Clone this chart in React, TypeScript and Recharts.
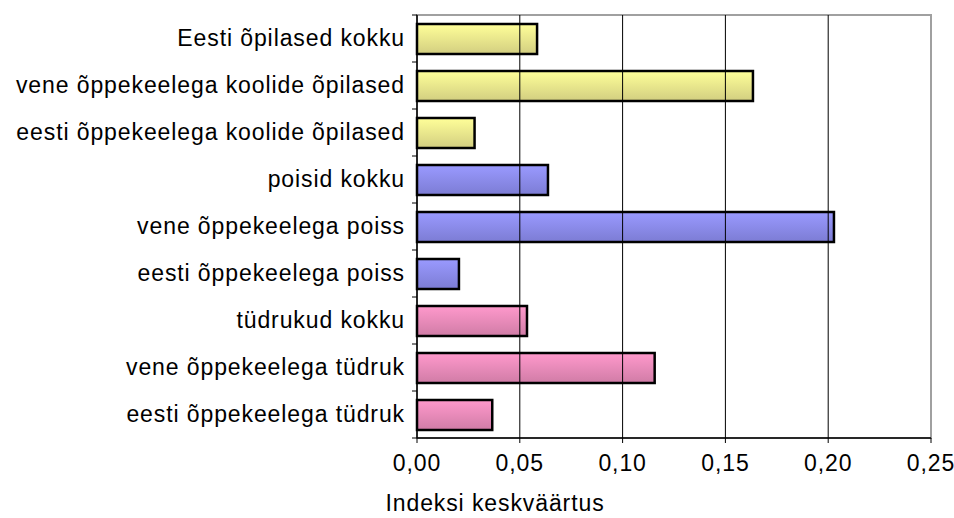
import React from "react";
import {
  BarChart,
  Bar,
  XAxis,
  YAxis,
  Cell,
  ReferenceLine,
  ReferenceArea,
} from "recharts";

const categories = [
  "Eesti õpilased kokku",
  "vene õppekeelega koolide õpilased",
  "eesti õppekeelega koolide õpilased",
  "poisid kokku",
  "vene õppekeelega poiss",
  "eesti õppekeelega poiss",
  "tüdrukud kokku",
  "vene õppekeelega tüdruk",
  "eesti õppekeelega tüdruk",
];
const values = [0.0584, 0.1634, 0.028, 0.0637, 0.2028, 0.0204, 0.0535, 0.1156, 0.0366];
const groups = ["all", "all", "all", "boys", "boys", "boys", "girls", "girls", "girls"];
const xTicks = [0, 0.05, 0.1, 0.15, 0.2, 0.25];
const gridTicks = [0.05, 0.1, 0.15, 0.2];
const axisTitle = "Indeksi keskväärtus";

const data = categories.map((name, i) => ({ name, value: values[i], group: groups[i] }));

const W = 954;
const H = 518;
const margin = { top: 15, right: 23, bottom: 0, left: 0 };
const X_AXIS_H = 80;
const Y_AXIS_W = 417;
const plotH = H - margin.top - margin.bottom - X_AXIS_H;
const band = plotH / categories.length;

const FONT = "'Liberation Sans', Arial, sans-serif";
const FS = 23;
const LS = 0.9;

const fmt = (v: number) => v.toFixed(2).replace(".", ",");

const YTick = (props: any) => {
  const { y, payload, index } = props;
  const ax = Y_AXIS_W;
  return (
    <g>
      <line x1={ax - 5} x2={ax} y1={y - band / 2} y2={y - band / 2} stroke="#000" />
      {index === categories.length - 1 && (
        <line x1={ax - 5} x2={ax} y1={y + band / 2} y2={y + band / 2} stroke="#000" />
      )}
      <text
        x={ax - 12}
        y={y}
        dy={7}
        textAnchor="end"
        fontFamily={FONT}
        fontSize={FS}
        letterSpacing={LS}
        fill="#000"
      >
        {payload.value}
      </text>
    </g>
  );
};

const XTick = (props: any) => {
  const { x, y, payload } = props;
  return (
    <text
      x={x}
      y={y}
      dy={26}
      textAnchor="middle"
      fontFamily={FONT}
      fontSize={FS}
      letterSpacing={LS}
      fill="#000"
    >
      {fmt(payload.value)}
    </text>
  );
};

const XLabel = (props: any) => {
  const { viewBox } = props;
  return (
    <text
      x={viewBox.x + 78}
      y={H - 7}
      textAnchor="middle"
      fontFamily={FONT}
      fontSize={FS}
      letterSpacing={LS}
      fill="#000"
    >
      {axisTitle}
    </text>
  );
};

const fills: Record<string, string> = {
  all: "url(#gAll)",
  boys: "url(#gBoys)",
  girls: "url(#gGirls)",
};

export default function App() {
  return (
    <div style={{ position: "absolute", left: 0, top: 0, background: "#fff" }}>
      <BarChart
        width={W}
        height={H}
        data={data}
        layout="vertical"
        margin={margin}
        barCategoryGap={0}
      >
        <defs>
          <linearGradient id="gAll" x1="0" y1="0" x2="0" y2="1">
            <stop offset="0%" stopColor="#FFFF99" />
            <stop offset="100%" stopColor="#D2CE80" />
          </linearGradient>
          <linearGradient id="gBoys" x1="0" y1="0" x2="0" y2="1">
            <stop offset="0%" stopColor="#9A9AFF" />
            <stop offset="100%" stopColor="#7C7CD4" />
          </linearGradient>
          <linearGradient id="gGirls" x1="0" y1="0" x2="0" y2="1">
            <stop offset="0%" stopColor="#FF99CC" />
            <stop offset="100%" stopColor="#D07CA6" />
          </linearGradient>
        </defs>
        <ReferenceArea
          x1={0}
          x2={0.25}
          fill="none"
          stroke="#A0A0A0"
          strokeWidth={2}
          ifOverflow="visible"
        />
        {gridTicks.map((t) => (
          <ReferenceLine key={t} x={t} stroke="#000" strokeWidth={1} />
        ))}
        <XAxis
          type="number"
          domain={[0, 0.25]}
          ticks={xTicks}
          height={X_AXIS_H}
          axisLine={{ stroke: "#000", strokeWidth: 1.5 }}
          tickLine={{ stroke: "#000" }}
          tickSize={5}
          tick={<XTick />}
          interval={0}
          label={<XLabel />}
        />
        <YAxis
          type="category"
          dataKey="name"
          width={Y_AXIS_W}
          axisLine={{ stroke: "#000", strokeWidth: 1.5 }}
          tickLine={false}
          tickSize={0}
          tickMargin={0}
          tick={<YTick />}
          interval={0}
        />
        <Bar
          dataKey="value"
          barSize={30}
          stroke="#000"
          strokeWidth={2.5}
          isAnimationActive={false}
        >
          {data.map((d, i) => (
            <Cell key={i} fill={fills[d.group]} />
          ))}
        </Bar>
      </BarChart>
    </div>
  );
}
